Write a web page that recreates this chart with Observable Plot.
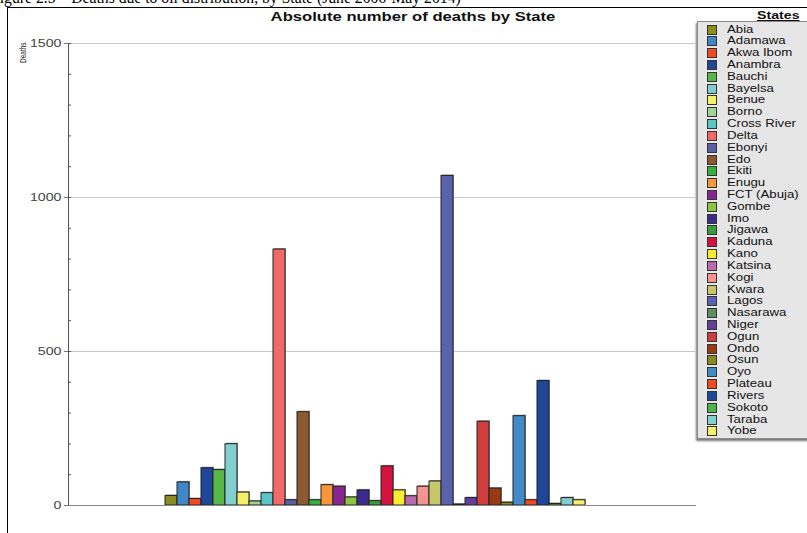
<!DOCTYPE html>
<html><head><meta charset="utf-8">
<script src="https://cdn.jsdelivr.net/npm/d3@7"></script>
<script src="https://cdn.jsdelivr.net/npm/@observablehq/plot@0.6"></script>
<style>
html,body{margin:0;padding:0;background:#fff;overflow:hidden;}
#wrap{position:relative;width:807px;height:533px;overflow:hidden;font-family:"Liberation Sans",Arial,sans-serif;}
#chart{position:absolute;left:0;top:0;}
#caption{position:absolute;left:-9px;top:-11px;font-family:"Liberation Serif","Times New Roman",serif;font-size:15.7px;white-space:nowrap;color:#000;}
#frameTop{position:absolute;left:7px;top:7px;width:800px;height:1px;background:#000;}
#frameLeft{position:absolute;left:7px;top:7px;width:1px;height:530px;background:#000;}
#title{position:absolute;left:413px;top:9px;transform:translateX(-50%) scaleX(1.28);font-weight:bold;font-size:13px;color:#111;white-space:nowrap;}
#ylab{position:absolute;left:18px;top:63px;transform:rotate(-90deg) scale(1,1.35);transform-origin:left top;font-size:6.5px;color:#222;white-space:nowrap;}
#legend{position:absolute;left:697px;top:21px;width:130px;height:416px;background:#e6e6e6;border:1px solid #8a8a8a;box-shadow:-1px 2px 2px #777;}
#legTitle{position:absolute;left:757px;top:9px;font-weight:bold;font-size:10.5px;text-decoration:underline;color:#111;transform:scaleX(1.35);transform-origin:left top;white-space:nowrap;}
.item{position:absolute;left:9px;height:12px;line-height:12px;color:#111;white-space:nowrap;}
.sw{position:absolute;left:0;top:1px;width:8px;height:8px;border:1px solid #333;}
.tx{position:absolute;left:20px;top:0;font-size:10px;transform:scaleX(1.32);transform-origin:left center;}
</style></head>
<body>
<div id="wrap">
  <div id="chart"></div>
  <div id="caption">Figure 2.5 – Deaths due to oil distribution, by State (June 2006-May 2014)</div>
  <div id="frameTop"></div>
  <div id="frameLeft"></div>
  <div id="title">Absolute number of deaths by State</div>
  <div id="ylab">Deaths</div>
  <div id="legend"></div>
  <div id="legTitle">States</div>
</div>
<script>
const states = ["Abia","Adamawa","Akwa Ibom","Anambra","Bauchi","Bayelsa","Benue","Borno","Cross River","Delta","Ebonyi","Edo","Ekiti","Enugu","FCT (Abuja)","Gombe","Imo","Jigawa","Kaduna","Kano","Katsina","Kogi","Kwara","Lagos","Nasarawa","Niger","Ogun","Ondo","Osun","Oyo","Plateau","Rivers","Sokoto","Taraba","Yobe"];
const deaths = [31,75,21,121,115,199,42,13,40,831,17,303,17,66,61,26,49,14,127,49,30,61,78,1070,3,24,272,55,9,290,17,404,5,24,17];
const colors = ["#8b8b1f","#3f88c8","#f04a23","#1f4799","#57b848","#82cfcf","#f5f06a","#a0d493","#5cc6c6","#f06a6a","#5a5f9e","#8b5a30","#38b040","#f7973a","#84278f","#8cc63e","#3b2c8c","#3a9e40","#d4143f","#f7ec2f","#b86aad","#f39490","#c5c76a","#5b62ad","#5b8f5f","#623e9b","#cf3d3d","#983a12","#8a8a20","#428ac8","#f04a23","#1f4799","#4ab848","#82cfcf","#f5f06a"];
const majorTicks = [0,500,1000,1500];
const minorTicks = d3.range(0,1501,100);

const data = states.map((s,i)=>({state:s, deaths:deaths[i]}));

const chart = Plot.plot({
  width:807, height:533,
  marginLeft:68, marginRight:112, marginTop:43, marginBottom:28,
  style:{fontFamily:"Liberation Sans, Arial, sans-serif", background:"transparent"},
  x:{domain:states, paddingInner:0, paddingOuter:8.3, align:0.47, axis:null},
  y:{domain:[0,1500], axis:null, label:null},
  color:{domain:states, range:colors},
  marks:[
    Plot.gridY(majorTicks.slice(1), {stroke:"#c8c8c8", strokeOpacity:1}),
    Plot.barY(data,{x:"state", y:"deaths", fill:"#999", dx:1, dy:-1}),
    Plot.barY(data,{x:"state", y:"deaths", fill:"state", stroke:"#222", strokeWidth:1}),
    Plot.axisY(minorTicks,{tickSize:-3, text:null, stroke:"#555", label:null}),
    Plot.axisY(majorTicks,{tickSize:4, tickPadding:3, fontSize:10.5, fill:"#444", stroke:"#777", label:null, tickFormat:"d"}),
    Plot.frame({anchor:"left", stroke:"#555"}),
    Plot.frame({anchor:"bottom", stroke:"#888"})
  ]
});
document.getElementById("chart").appendChild(chart);

// widen tick labels to match the reference's stretched lettering
d3.select(chart).selectAll("text").each(function(){
  const t = this;
  if (t.textContent && /^\d+$/.test(t.textContent.trim())) {
    const len = t.getComputedTextLength();
    t.setAttribute("textLength", (len*1.35).toFixed(1));
    t.setAttribute("lengthAdjust","spacingAndGlyphs");
  }
});

const leg = document.getElementById("legend");
const y0 = 1.5, step = 11.82;
states.forEach((s,i)=>{
  const d = document.createElement("div");
  d.className="item";
  d.style.top = (y0 + i*step) + "px";
  d.innerHTML = `<span class="sw" style="background:${colors[i]}"></span><span class="tx">${s}</span>`;
  leg.appendChild(d);
});
</script>
</body></html>
